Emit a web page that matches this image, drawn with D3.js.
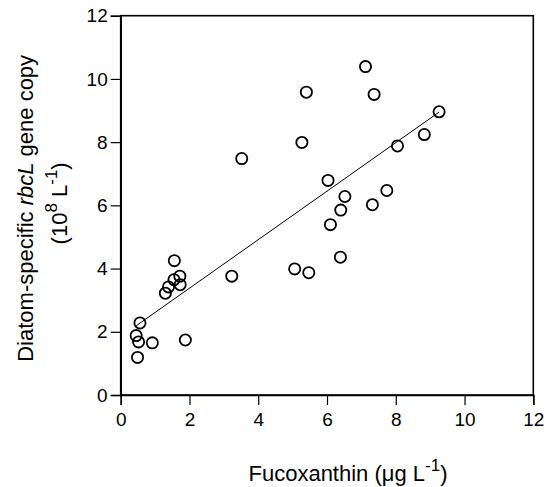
<!DOCTYPE html>
<html>
<head>
<meta charset="utf-8">
<script src="https://cdn.jsdelivr.net/npm/d3@7"></script>
<style>
  html, body { margin: 0; padding: 0; background: #fff; }
  svg { display: block; font-family: "Liberation Sans", Arial, sans-serif; }
</style>
</head>
<body>
<svg id="chart" width="549" height="487"></svg>
<script>
// Data
const fucoxanthin = [7.12, 5.40, 7.37, 9.26, 8.83, 8.05, 5.27, 3.52, 6.03, 6.52, 7.74,
                     6.40, 6.10, 7.32, 6.39, 5.06, 5.47, 3.23, 1.56, 1.72, 1.55, 1.73,
                     1.39, 1.30, 0.56, 0.45, 0.52, 0.92, 1.88, 0.49];
const rbcLCopies  = [10.39, 9.58, 9.51, 8.96, 8.24, 7.88, 7.99, 7.48, 6.79, 6.28, 6.47,
                     5.85, 5.39, 6.02, 4.36, 3.99, 3.87, 3.76, 4.25, 3.76, 3.65, 3.49,
                     3.42, 3.22, 2.28, 1.88, 1.68, 1.65, 1.74, 1.19];
const fitX = [0.45, 9.26];
const fitY = [2.19, 8.95];
const xTicks = [0, 2, 4, 6, 8, 10, 12];
const yTicks = [0, 2, 4, 6, 8, 10, 12];
const xDomain = [0, 12];
const yDomain = [0, 12];

const svg = d3.select("#chart");
const margin = { left: 120.7, right: 549 - 533.3, top: 15.7, bottom: 487 - 395 };
const W = 549, H = 487;
const x = d3.scaleLinear().domain(xDomain).range([margin.left, W - margin.right]);
const y = d3.scaleLinear().domain(yDomain).range([H - margin.bottom, margin.top]);

// frame (top and right borders)
svg.append("rect")
  .attr("x", x(0)).attr("y", y(12))
  .attr("width", x(12) - x(0)).attr("height", y(0) - y(12))
  .attr("fill", "none").attr("stroke", "#000").attr("stroke-width", 1.6);

const xAxis = svg.append("g")
  .attr("transform", `translate(0,${y(0)})`)
  .call(d3.axisBottom(x).tickValues(xTicks).tickSize(10).tickPadding(8).tickFormat(d3.format("d")));
const yAxis = svg.append("g")
  .attr("transform", `translate(${x(0)},0)`)
  .call(d3.axisLeft(y).tickValues(yTicks).tickSize(10).tickPadding(3).tickFormat(d3.format("d")));

[xAxis, yAxis].forEach(g => {
  g.select(".domain").attr("stroke", "#000").attr("stroke-width", 1.6);
  g.selectAll(".tick line").attr("stroke", "#000").attr("stroke-width", 1.2);
  g.selectAll(".tick text").attr("fill", "#000")
    .style("font-size", "19px").style("font-family", "'Liberation Sans', Arial, sans-serif");
});

// regression line
svg.append("line")
  .attr("x1", x(fitX[0])).attr("y1", y(fitY[0]))
  .attr("x2", x(fitX[1])).attr("y2", y(fitY[1]))
  .attr("stroke", "#000").attr("stroke-width", 1);

// points
svg.append("g").selectAll("circle")
  .data(fucoxanthin.map((v, i) => [v, rbcLCopies[i]]))
  .join("circle")
  .attr("cx", d => x(d[0])).attr("cy", d => y(d[1]))
  .attr("r", 5.6)
  .attr("fill", "none").attr("stroke", "#000").attr("stroke-width", 1.8);

// x axis title
const xt = svg.append("text")
  .attr("x", 348).attr("y", 481)
  .attr("text-anchor", "middle")
  .style("font-size", "22px").attr("fill", "#000");
xt.append("tspan").text("Fucoxanthin (μg L");
xt.append("tspan").attr("dy", -10).style("font-size", "17px").text("-1");
xt.append("tspan").attr("dy", 10).text(")");

// y axis title (two lines)
const cy = (y(0) + y(12)) / 2;
const yt1 = svg.append("text")
  .attr("transform", `translate(33,${cy + 3}) rotate(-90)`)
  .attr("text-anchor", "middle")
  .style("font-size", "22px").attr("fill", "#000");
yt1.append("tspan").text("Diatom-specific ");
yt1.append("tspan").style("font-style", "italic").text("rbcL");
yt1.append("tspan").text(" gene copy");

const yt2 = svg.append("text")
  .attr("transform", `translate(67,${cy - 2}) rotate(-90)`)
  .attr("text-anchor", "middle")
  .style("font-size", "22px").attr("fill", "#000");
yt2.append("tspan").text("(10");
yt2.append("tspan").attr("dy", -10).style("font-size", "17px").text("8");
yt2.append("tspan").attr("dy", 10).text(" L");
yt2.append("tspan").attr("dy", -10).style("font-size", "17px").text("-1");
yt2.append("tspan").attr("dy", 10).text(")");
</script>
</body>
</html>
